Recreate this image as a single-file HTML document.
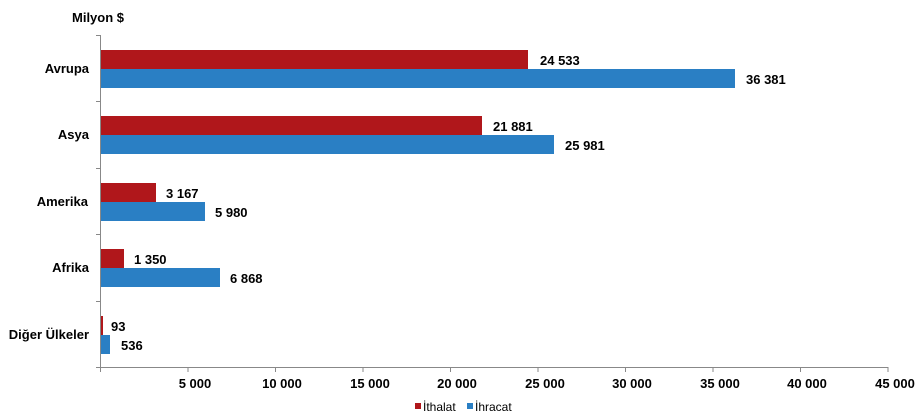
<!DOCTYPE html>
<html><head><meta charset="utf-8"><style>body{margin:0;background:#fff}svg{display:block}text{font-family:"Liberation Sans",Arial,sans-serif}</style></head><body>
<svg width="916" height="417" viewBox="0 0 916 417">
<text x="72" y="22" font-size="13" font-weight="bold" fill="#000">Milyon $</text>
<g stroke="#888" stroke-width="1">
<line x1="100.5" y1="35" x2="100.5" y2="367"/>
<line x1="100" y1="367.5" x2="888" y2="367.5"/>
<line x1="96" y1="35.5" x2="100" y2="35.5"/><line x1="96" y1="101.5" x2="100" y2="101.5"/><line x1="96" y1="168.5" x2="100" y2="168.5"/><line x1="96" y1="234.5" x2="100" y2="234.5"/><line x1="96" y1="301.5" x2="100" y2="301.5"/><line x1="96" y1="367.5" x2="100" y2="367.5"/>
<line x1="100.5" y1="367" x2="100.5" y2="372"/><line x1="188" y1="367" x2="188" y2="372"/><line x1="275.5" y1="367" x2="275.5" y2="372"/><line x1="363" y1="367" x2="363" y2="372"/><line x1="450.5" y1="367" x2="450.5" y2="372"/><line x1="538" y1="367" x2="538" y2="372"/><line x1="625.5" y1="367" x2="625.5" y2="372"/><line x1="713" y1="367" x2="713" y2="372"/><line x1="800.5" y1="367" x2="800.5" y2="372"/><line x1="888" y1="367" x2="888" y2="372"/>
</g>
<g font-size="13" font-weight="bold" text-anchor="middle" fill="#000">
<text x="195" y="388">5 000</text><text x="282" y="388">10 000</text><text x="370" y="388">15 000</text><text x="457" y="388">20 000</text><text x="545" y="388">25 000</text><text x="632" y="388">30 000</text><text x="720" y="388">35 000</text><text x="807" y="388">40 000</text><text x="895" y="388">45 000</text>
</g>
<g font-size="13" font-weight="bold" text-anchor="end" fill="#000">
<text x="89" y="73">Avrupa</text><text x="89" y="139">Asya</text><text x="88" y="206">Amerika</text><text x="89" y="272">Afrika</text><text x="89" y="339">Diğer Ülkeler</text>
</g>
<g fill="#B0171B">
<rect x="101" y="50" width="427" height="19"/><rect x="101" y="116" width="381" height="19"/><rect x="101" y="183" width="55" height="19"/><rect x="101" y="249" width="23" height="19"/><rect x="101" y="316" width="2" height="19"/>
</g>
<g fill="#2A7FC4">
<rect x="101" y="69" width="634" height="19"/><rect x="101" y="135" width="453" height="19"/><rect x="101" y="202" width="104" height="19"/><rect x="101" y="268" width="119" height="19"/><rect x="101" y="335" width="9" height="19"/>
</g>
<g font-size="13" font-weight="bold" fill="#000">
<text x="540" y="65">24 533</text><text x="746" y="84">36 381</text>
<text x="493" y="131">21 881</text><text x="565" y="150">25 981</text>
<text x="166" y="198">3 167</text><text x="215" y="217">5 980</text>
<text x="134" y="264">1 350</text><text x="230" y="283">6 868</text>
<text x="111" y="331">93</text><text x="121" y="350">536</text>
</g>
<rect x="415" y="403" width="6" height="6" fill="#B0171B"/>
<text x="423" y="411" font-size="12" fill="#000">İthalat</text>
<rect x="467" y="403" width="6" height="6" fill="#2A7FC4"/>
<text x="475" y="411" font-size="12" fill="#000">İhracat</text>
</svg>
</body></html>
